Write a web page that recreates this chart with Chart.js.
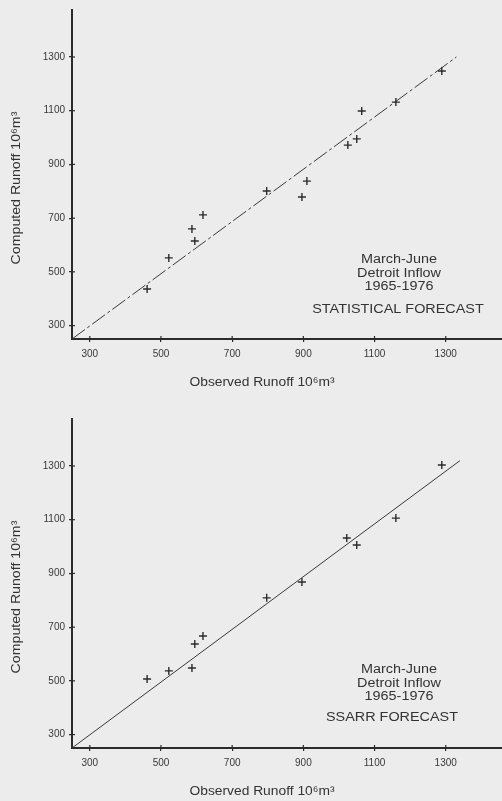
<!DOCTYPE html>
<html>
<head>
<meta charset="utf-8">
<script src="https://cdn.jsdelivr.net/npm/chart.js@4.4.1/dist/chart.umd.min.js"></script>
<style>
    body { margin: 0; width: 502px; height: 801px; overflow: hidden; position: relative; background: #ececec; }
    canvas { position: absolute; left: 0; }
    #chart1 { top: 0; }
    #chart2 { top: 409px; }
</style>
</head>
<body>
<canvas id="chart1" width="507" height="392"></canvas>
<canvas id="chart2" width="507" height="392"></canvas>
<script>
/******************************************************************************
 * data
 *****************************************************************************/
const xTicks = [300, 500, 700, 900, 1100, 1300];
const yTicks = [300, 500, 700, 900, 1100, 1300];

// statistical forecast (top)
const statObserved = [1289, 1160, 1064, 1025, 1050, 910, 797, 896, 618, 587, 595, 522, 461];
const statComputed = [1248, 1132, 1099, 972, 995, 838, 801, 779, 712, 660, 615, 552, 436];
const statLineX = [250, 1330];
const statLineY = [250, 1300];

// SSARR forecast (bottom)
const ssarrObserved = [1289, 1160, 1022, 1050, 896, 797, 618, 595, 522, 587, 461];
const ssarrComputed = [1304, 1106, 1032, 1006, 868, 809, 667, 637, 537, 548, 507];
const ssarrLineX = [250, 1340];
const ssarrLineY = [250, 1320];

const noteLines = ['March-June', 'Detroit Inflow', '1965-1976'];
const xTitle = 'Observed Runoff 10⁶m³';
const yTitle = 'Computed Runoff 10⁶m³';

/******************************************************************************
 * constants
 *****************************************************************************/
const FONT = '"Liberation Sans", Arial, sans-serif';
const INK = '#2b2b2b';

function pairs(xs, ys) {
    return xs.map((x, i) => ({ x: x, y: ys[i] }));
}

function stretchText(ctx, text, x, y, sx, angle) {
    ctx.save();
    ctx.translate(x, y);
    if (angle) ctx.rotate(angle);
    ctx.scale(sx, 1);
    ctx.fillText(text, 0, 0);
    ctx.restore();
}

// axis crosses, titles and the note box
const paperText = {
    id: 'paperText',
    afterDraw(chart, args, opts) {
        const ctx = chart.ctx;
        const xs = chart.scales.x, ys = chart.scales.y;
        ctx.save();
        ctx.strokeStyle = INK;
        ctx.lineWidth = 1.2;
        xs.ticks.forEach(t => {
            const px = xs.getPixelForValue(t.value);
            ctx.beginPath();
            ctx.moveTo(px, xs.top - 3);
            ctx.lineTo(px, xs.top);
            ctx.stroke();
        });
        ys.ticks.forEach(t => {
            const py = ys.getPixelForValue(t.value);
            ctx.beginPath();
            ctx.moveTo(ys.right, py);
            ctx.lineTo(ys.right + 3, py);
            ctx.stroke();
        });

        ctx.fillStyle = '#333';
        ctx.textAlign = 'center';
        ctx.textBaseline = 'middle';
        ctx.font = '12px ' + FONT;
        noteLines.forEach((s, i) => stretchText(ctx, s, opts.noteX, opts.noteY + i * 13.5, 1.2));
        stretchText(ctx, opts.label, opts.labelX, opts.labelY, 1.2);
        stretchText(ctx, xTitle, 262, 383, 1.15);
        stretchText(ctx, yTitle, 17, 188, 1.18, -Math.PI / 2);
        ctx.restore();
    }
};

function drawChart(canvasId, obs, comp, lineX, lineY, dash, textOpts) {
    new Chart(document.getElementById(canvasId), {
        type: 'scatter',
        data: {
            datasets: [{
                data: pairs(obs, comp),
                pointStyle: 'cross',
                pointRadius: 4,
                pointBorderWidth: 1.4,
                borderColor: INK,
                backgroundColor: INK
            }, {
                type: 'line',
                data: pairs(lineX, lineY),
                borderColor: '#3a3a3a',
                borderWidth: 1,
                borderDash: dash,
                pointRadius: 0,
                fill: false
            }]
        },
        options: {
            responsive: false,
            animation: false,
            layout: { padding: { top: 10, right: 0, left: 0, bottom: 0 } },
            plugins: {
                legend: { display: false },
                tooltip: { enabled: false },
                paperText: textOpts
            },
            scales: {
                x: {
                    type: 'linear',
                    min: 250,
                    max: 1457,
                    afterBuildTicks: s => { s.ticks = xTicks.map(v => ({ value: v })); },
                    afterFit: s => { s.height = 53; },
                    grid: { drawOnChartArea: false, color: INK, tickLength: 3, lineWidth: 1.2 },
                    border: { color: INK, width: 2 },
                    ticks: { color: '#383838', padding: 6, autoSkip: false, maxRotation: 0,
                             callback: v => String(v), font: { size: 10, family: FONT } }
                },
                y: {
                    type: 'linear',
                    min: 250,
                    max: 1475,
                    afterBuildTicks: s => { s.ticks = yTicks.map(v => ({ value: v })); },
                    afterFit: s => { s.width = 72; },
                    grid: { drawOnChartArea: false, color: INK, tickLength: 3, lineWidth: 1.2 },
                    border: { color: INK, width: 2 },
                    ticks: { color: '#383838', padding: 4, autoSkip: false,
                             callback: v => String(v), font: { size: 10, family: FONT } }
                }
            }
        },
        plugins: [paperText]
    });
}

drawChart('chart1', statObserved, statComputed, statLineX, statLineY, [16, 3, 3, 3],
    { noteX: 399, noteY: 260, label: 'STATISTICAL FORECAST', labelX: 398, labelY: 310 });
drawChart('chart2', ssarrObserved, ssarrComputed, ssarrLineX, ssarrLineY, [],
    { noteX: 399, noteY: 261, label: 'SSARR FORECAST', labelX: 392, labelY: 309 });
</script>
</body>
</html>
